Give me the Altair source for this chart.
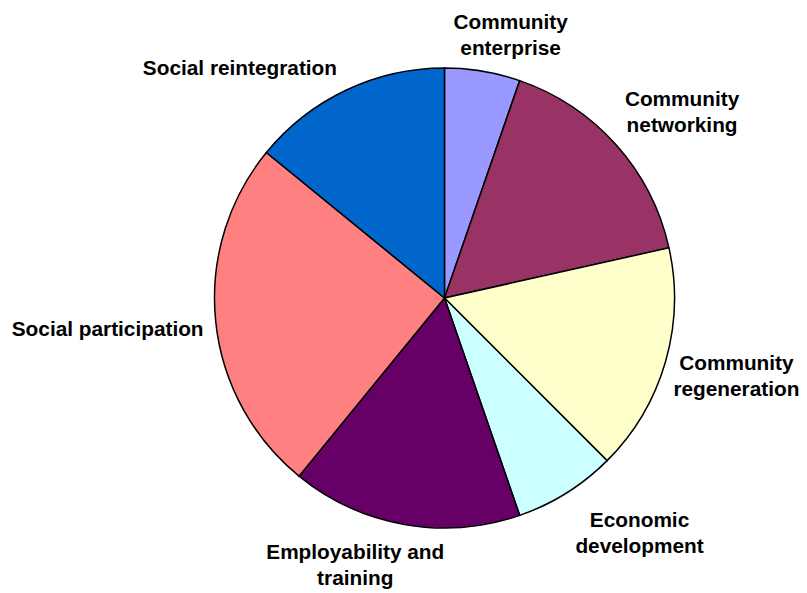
import altair as alt
import pandas as pd

# Data (percent of whole, clockwise from 12 o'clock)
categories = [
    "Community enterprise",
    "Community networking",
    "Community regeneration",
    "Economic development",
    "Employability and training",
    "Social participation",
    "Social reintegration",
]
values = [5.3, 16.2, 16.0, 7.2, 16.2, 25.0, 14.1]
labels = [
    "Community\nenterprise",
    "Community\nnetworking",
    "Community\nregeneration",
    "Economic\ndevelopment",
    "Employability and\ntraining",
    "Social participation",
    "Social reintegration",
]
colors = ["#9999FF", "#993366", "#FFFFCC", "#CCFFFF", "#660066", "#FF8080", "#0066CC"]

# Layout: label nudges (px) from the slice's mid-angle point on the rim
label_nudge = {
    "Community enterprise": (28, -42),
    "Community networking": (66, -39),
    "Community regeneration": (71, 8),
    "Economic development": (73, 34),
    "Employability and training": (-49, 35),
    "Social participation": (-108, 15),
    "Social reintegration": (-106, -15),
}

R = 230
df = pd.DataFrame({
    "category": categories,
    "value": values,
    "label": labels,
    "order": list(range(len(categories))),
})

base = alt.Chart(df)

pie = base.mark_arc(radius=R, stroke="black", strokeWidth=1.5).encode(
    theta=alt.Theta("value:Q", stack=True),
    color=alt.Color("category:N", scale=alt.Scale(domain=categories, range=colors), legend=None),
    order=alt.Order("order:Q"),
)

layers = [pie]
for cat in categories:
    dx, dy = label_nudge[cat]
    t = (
        base.transform_window(cum="sum(value)", sort=[alt.SortField("order")], frame=[None, 0])
        .transform_joinaggregate(total="sum(value)")
        .transform_calculate(mid="(datum.cum - datum.value / 2) / datum.total * 100")
        .transform_filter(alt.datum.category == cat)
        .mark_text(
            radius=R, dx=dx, dy=dy, align="center", baseline="alphabetic",
            font="Liberation Sans", fontWeight="bold", fontSize=20.8,
            lineHeight=26, lineBreak="\n", color="black",
        )
        .encode(
            theta=alt.Theta("mid:Q", scale=alt.Scale(domain=[0, 100])),
            text="label:N",
        )
    )
    layers.append(t)

chart = (
    alt.layer(*layers)
    .resolve_scale(theta="independent")
    .properties(
        width=680, height=560, autosize="none",
        padding={"left": 96.5, "top": 10, "right": 14, "bottom": 15},
        background="white",
    )
    .configure_view(stroke=None)
)

chart.save("out.html", embed_options={"renderer": "svg", "actions": False})
